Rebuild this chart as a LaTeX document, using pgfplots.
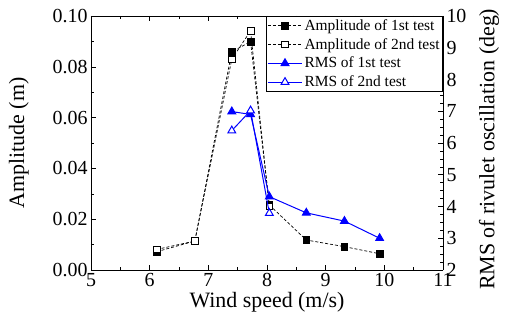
\documentclass[border=0pt]{standalone}
\usepackage{pgfplots}
\pgfplotsset{compat=1.18}
\usepackage{fontspec}
\setmainfont{Liberation Serif}
\begin{document}
\begin{tikzpicture}
\pgfplotsset{
  every axis/.append style={font=\fontsize{20}{23}\selectfont},
  every tick label/.append style={font=\fontsize{20}{23}\selectfont},
  every axis label/.append style={font=\fontsize{22}{25}\selectfont},
  /pgf/number format/assume math mode=true,
  ampA/.style={black, densely dashed, line width=0.7pt, mark=square*, mark size=3.3pt, mark options={solid, fill=black}},
  ampB/.style={black, densely dashed, line width=0.7pt, mark=square*, mark size=3.3pt, mark options={solid, fill=white, draw=black}},
  rmsA/.style={blue, solid, line width=1pt, mark=triangle*, mark size=4.5pt, mark options={solid, fill=blue}},
  rmsB/.style={blue, solid, line width=1pt, mark=triangle*, mark size=4.5pt, mark options={solid, fill=white, draw=blue}},
}
\begin{axis}[
  at={(0,0)}, anchor=south west,
  scale only axis, width=352bp, height=254bp,
  xmin=5, xmax=11, ymin=0, ymax=0.1,
  xtick={5,6,...,11}, minor x tick num=1,
  ytick={0,0.02,0.04,0.06,0.08,0.1}, minor y tick num=1,
  axis y line*=left,
  tick align=inside, tick style={black, line width=0.6pt},
  major tick length=5pt, minor tick length=3pt,
  yticklabel style={/pgf/number format/.cd, fixed, fixed zerofill, precision=2},
  scaled y ticks=false,
  xlabel={Wind speed (m/s)}, ylabel={Amplitude (m)},
  xlabel style={at={(axis description cs:0.5,-0.126)}, anchor=center},
  ylabel style={at={(axis description cs:-0.205,0.5)}, anchor=center, rotate=0},
  axis line style={line width=0.8pt},
  clip=false,
]
\addplot[ampA] coordinates {(6.12,0.0072) (6.77,0.0114) (7.40,0.0859) (7.72,0.0899) (8.04,0.0256) (8.67,0.0118) (9.32,0.0092) (9.92,0.0064)};
\addplot[ampB] coordinates {(6.12,0.0081) (6.77,0.0114) (7.40,0.0830) (7.72,0.0941) (8.04,0.0250)};
\end{axis}
\begin{axis}[
  at={(0,0)}, anchor=south west,
  scale only axis, width=352bp, height=254bp,
  xmin=5, xmax=11, ymin=2, ymax=10,
  axis x line=none, axis y line*=right,
  ytick={2,3,...,10}, minor y tick num=3,
  tick align=inside, tick style={black, line width=0.6pt},
  major tick length=5pt, minor tick length=3pt,
  ylabel={RMS of rivulet oscillation (deg)},
  ylabel style={at={(axis description cs:1.131,0.475)}, anchor=center},
  axis line style={line width=0.8pt},
  legend style={at={(1,1)}, anchor=north east, draw=black, line width=0.8pt, fill=white,
    font=\fontsize{15.5}{17}\selectfont, inner sep=1pt, row sep=2.5pt, cells={anchor=west}},
  legend image code/.code={\draw[mark repeat=2, mark phase=2, #1] plot coordinates {(0cm,0cm) (0.6cm,0cm) (1.2cm,0cm)};},
]
\addlegendimage{ampA}
\addlegendentry{Amplitude of 1st test}
\addlegendimage{ampB}
\addlegendentry{Amplitude of 2nd test}
\addplot[rmsA] coordinates {(7.40,6.99) (7.72,6.90) (8.04,4.31) (8.67,3.80) (9.32,3.54) (9.92,3.00)};
\addlegendentry{RMS of 1st test}
\addplot[rmsB] coordinates {(7.40,6.39) (7.72,7.02) (8.04,3.79)};
\addlegendentry{RMS of 2nd test}
\end{axis}
\pgfresetboundingbox
\path[use as bounding box] (-91bp,-55bp) rectangle (415bp,270bp);
\end{tikzpicture}
\end{document}
